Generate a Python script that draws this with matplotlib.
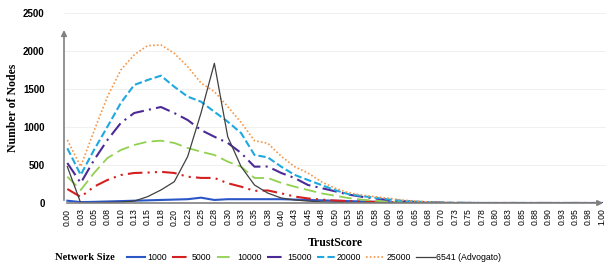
import numpy as np
import matplotlib
matplotlib.use("Agg")
import matplotlib.pyplot as plt

# TrustScore bins 0.00 .. 1.00 (step 0.025, labels rounded like the source)
tick_labels = ['0.00', '0.03', '0.05', '0.08', '0.10', '0.13', '0.15', '0.18', '0.20', '0.23',
               '0.25', '0.28', '0.30', '0.33', '0.35', '0.38', '0.40', '0.43', '0.45', '0.48',
               '0.50', '0.53', '0.55', '0.58', '0.60', '0.63', '0.65', '0.68', '0.70', '0.73',
               '0.75', '0.78', '0.80', '0.83', '0.85', '0.88', '0.90', '0.93', '0.95', '0.98', '1.00']

n1000 = [30, 12, 15, 20, 25, 30, 35, 40, 45, 50, 70, 40, 50, 50, 50, 50, 50, 45, 40, 35,
         30, 25, 20, 15, 10, 5, 3, 2, 1, 0, 0, 0, 0, 0, 0, 0, 0, 0, 0, 0, 0]
n5000 = [184, 80, 215, 303, 368, 395, 400, 410, 395, 346, 330, 330, 260, 215, 160, 165, 127, 85, 60, 45,
         32, 26, 20, 15, 10, 6, 4, 2, 1, 0, 0, 0, 0, 0, 0, 0, 0, 0, 0, 0, 0]
n10000 = [346, 171, 395, 592, 697, 763, 807, 820, 790, 724, 675, 632, 544, 478, 329, 329, 265, 215, 171, 127,
          97, 66, 45, 30, 20, 12, 6, 3, 2, 1, 0, 0, 0, 0, 0, 0, 0, 0, 0, 0, 0]
n15000 = [526, 263, 566, 829, 1053, 1184, 1224, 1263, 1184, 1092, 960, 872, 790, 658, 478, 480, 395, 329, 237, 197,
          155, 112, 83, 60, 40, 25, 15, 8, 4, 2, 1, 0, 0, 0, 0, 0, 0, 0, 0, 0, 0]
n20000 = [720, 370, 700, 1004, 1316, 1553, 1618, 1675, 1530, 1400, 1333, 1200, 1070, 920, 632, 600, 478, 370, 303, 237,
          171, 118, 92, 70, 48, 30, 20, 10, 5, 2, 1, 0, 0, 0, 0, 0, 0, 0, 0, 0, 0]
n25000 = [830, 480, 950, 1400, 1750, 1950, 2070, 2080, 1970, 1795, 1580, 1465, 1268, 1060, 820, 785, 615, 478, 395, 280,
          197, 136, 105, 83, 63, 40, 25, 15, 8, 4, 2, 1, 0, 0, 0, 0, 0, 0, 0, 0, 0]
advogato = [478, 0, 5, 8, 12, 25, 83, 171, 280, 610, 1184, 1838, 872, 478, 237, 130, 66, 40, 25, 15,
            8, 5, 3, 2, 1, 0, 0, 0, 0, 0, 0, 0, 0, 0, 0, 0, 0, 0, 0, 0, 0]

series_names = ['1000', '5000', '10000', '15000', '20000', '25000', '6541 (Advogato)']
series_values = [n1000, n5000, n10000, n15000, n20000, n25000, advogato]
colors = ['#2a56c6', '#d42020', '#92d050', '#4b2a96', '#1fa8e0', '#f79646', '#404040']
styles = ['-', (0, (7, 2.5, 1, 2.5, 1, 2.5)), (0, (7, 3)), (0, (7, 2.5, 1, 2.5)),
          (0, (3.5, 1.5)), (0, (1, 1.3)), '-']
widths = [1.5, 1.5, 1.3, 1.5, 1.5, 1.2, 0.9]

fig = plt.figure(figsize=(6.08, 2.67), dpi=100)
ax = fig.add_axes([64 / 608, 64 / 267, 542 / 608, 190 / 267])

x = np.arange(len(tick_labels))
for vals, name, c, ls, lw in zip(series_values, series_names, colors, styles, widths):
    ax.plot(x, vals, color=c, linestyle=ls, linewidth=lw, label=name)

ax.set_xlim(-0.25, 40.3)
ax.set_ylim(0, 2500)
ax.set_xticks(x)
ax.set_xticklabels(tick_labels, rotation=90, fontsize=6.2, family='Liberation Sans')
ax.set_yticks([0, 500, 1000, 1500, 2000, 2500])
ax.set_yticklabels(['0', '500', '1000', '1500', '2000', '2500'], fontsize=7,
                   fontweight='bold', family='Liberation Sans')
ax.tick_params(axis='both', length=0)
ax.tick_params(axis='y', pad=14)
ax.tick_params(axis='x', pad=4)
ax.grid(axis='y', color='#eeeeee', linewidth=0.6)
ax.set_axisbelow(True)
for s in ax.spines.values():
    s.set_visible(False)

# axes drawn as arrows
ax.annotate('', xy=(0, 0.925), xytext=(0, 0), xycoords='axes fraction',
            arrowprops=dict(arrowstyle='-|>', color='#808080', lw=1.2, mutation_scale=8))
ax.annotate('', xy=(1.0, 0), xytext=(0, 0), xycoords='axes fraction',
            arrowprops=dict(arrowstyle='-|>', color='#808080', lw=1.2, mutation_scale=8))

ax.set_ylabel('Number of Nodes', family='Liberation Serif', fontweight='bold', fontsize=8.5)
ax.yaxis.set_label_coords(-0.083, 0.5)
ax.set_xlabel('TrustScore', family='Liberation Serif', fontweight='bold', fontsize=8.5)
ax.xaxis.set_label_coords(0.5, -0.18)

fig.text(55 / 608, 1 - 258 / 267, 'Network Size', family='Liberation Serif', fontweight='bold',
         fontsize=7.6, va='center', ha='left')
fig.legend(loc='center left', bbox_to_anchor=(127 / 608, 1 - 258 / 267), ncol=7, frameon=False,
           prop={'family': 'Liberation Sans', 'size': 6.3},
           handlelength=2.1, handletextpad=0.2, columnspacing=0.6, borderaxespad=0,
           borderpad=0)

fig.savefig('out.png', dpi=100)
